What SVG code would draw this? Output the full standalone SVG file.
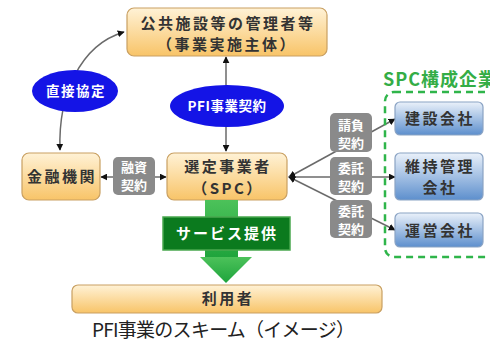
<svg xmlns="http://www.w3.org/2000/svg" width="490" height="345" viewBox="0 0 490 345">
<defs>
<linearGradient id="og" x1="0" y1="0" x2="0" y2="1"><stop offset="0" stop-color="#fff2d6"/><stop offset="1" stop-color="#f8c468"/></linearGradient>
<linearGradient id="bg" x1="0" y1="0" x2="0" y2="1"><stop offset="0" stop-color="#eaf1fa"/><stop offset="1" stop-color="#5d8fcd"/></linearGradient>
<linearGradient id="gg" x1="0" y1="0" x2="0" y2="1"><stop offset="0" stop-color="#4cc25a"/><stop offset="1" stop-color="#1ea43c"/></linearGradient>
<marker id="ah" viewBox="0 0 10 10" refX="9" refY="5" markerWidth="7" markerHeight="7" markerUnits="userSpaceOnUse" orient="auto-start-reverse"><path d="M0,0 L10,5 L0,10 z" fill="#111"/></marker>
<style>
.ob{fill:url(#og);stroke:#c9a062;stroke-width:1.2}
.bb{fill:url(#bg);stroke:#8aa3c4;stroke-width:1.2}
.gr{fill:#8a8a8a}
.t{font-family:"Noto Sans CJK JP","Noto Sans",sans-serif;font-weight:bold;text-anchor:middle}
.dk{fill:#333;font-size:15px;letter-spacing:2.5px}
.wt{fill:#fff;font-size:13px}
.el{fill:#fff;font-size:13.5px}
.ln{fill:none;stroke:#6a6a6a;stroke-width:1.5}
</style>
</defs>
<rect width="490" height="345" fill="#fff"/>

<g id="connectors">
<path class="ln" d="M60,150 C58,95 80,45 124,32" marker-start="url(#ah)" marker-end="url(#ah)"/>
<line class="ln" x1="226" y1="151" x2="226" y2="57" marker-start="url(#ah)" marker-end="url(#ah)"/>
<line class="ln" x1="101" y1="177" x2="166" y2="177" marker-start="url(#ah)" marker-end="url(#ah)"/>
<line class="ln" x1="289" y1="177" x2="395" y2="119" marker-start="url(#ah)" marker-end="url(#ah)"/>
<line class="ln" x1="289" y1="177" x2="395" y2="177" marker-start="url(#ah)" marker-end="url(#ah)"/>
<line class="ln" x1="289" y1="177" x2="395" y2="230" marker-start="url(#ah)" marker-end="url(#ah)"/>
</g>

<g id="public">
<rect class="ob" x="127" y="8" width="200" height="48" rx="7"/>
<text class="t dk" x="228" y="29">公共施設等の管理者等</text>
<text class="t dk" x="227" y="50">（事業実施主体）</text>
</g>

<g id="direct">
<ellipse cx="75" cy="91" rx="43" ry="21" fill="#1414e6"/>
<text class="t el" x="76" y="96" letter-spacing="1.5">直接協定</text>
</g>

<g id="pfi">
<ellipse cx="227" cy="106" rx="57" ry="21" fill="#1414e6"/>
<text class="t el" x="227" y="111" letter-spacing="0.5">PFI事業契約</text>
</g>

<g id="bank">
<rect class="ob" x="22" y="153" width="78" height="47" rx="7"/>
<text class="t dk" x="62" y="182" letter-spacing="1.5">金融機関</text>
</g>

<g id="loan">
<rect class="gr" x="113" y="157" width="42" height="38" rx="5"/>
<text class="t wt" x="134" y="172">融資</text>
<text class="t wt" x="134" y="190">契約</text>
</g>

<g id="spc">
<rect class="ob" x="167" y="153" width="120" height="47" rx="7"/>
<text class="t dk" x="228" y="172">選定事業者</text>
<text class="t dk" x="228" y="194">（SPC）</text>
</g>

<g id="service">
<rect x="205" y="200" width="33" height="58" fill="url(#gg)"/>
<polygon points="200,257 252,257 226,283" fill="url(#gg)"/>
<rect x="163" y="217" width="127" height="33" fill="#0b7a1e" stroke="#4aa84f" stroke-width="1.5"/>
<text class="t" x="227" y="239" fill="#fff" font-size="15" letter-spacing="2">サービス提供</text>
</g>

<g id="users">
<rect class="ob" x="72" y="285" width="310" height="28" rx="6"/>
<text class="t dk" x="228" y="304">利用者</text>
</g>

<g id="c1">
<rect class="gr" x="330" y="113" width="42" height="39" rx="5"/>
<text class="t wt" x="351" y="130">請負</text>
<text class="t wt" x="351" y="148">契約</text>
</g>
<g id="c2">
<rect class="gr" x="330" y="157" width="42" height="38" rx="5"/>
<text class="t wt" x="351" y="173">委託</text>
<text class="t wt" x="351" y="191">契約</text>
</g>
<g id="c3">
<rect class="gr" x="330" y="200" width="42" height="38" rx="5"/>
<text class="t wt" x="351" y="216">委託</text>
<text class="t wt" x="351" y="234">契約</text>
</g>

<g id="group">
<rect x="385" y="92" width="120" height="165" rx="9" fill="none" stroke="#2fb54a" stroke-width="2.5" stroke-dasharray="7 5"/>
<text x="383" y="86" font-family="'Noto Sans CJK JP','Noto Sans',sans-serif" font-weight="bold" font-size="18" letter-spacing="1" fill="#34ad46">SPC構成企業</text>
</g>

<g id="build">
<rect class="bb" x="395" y="102" width="88" height="33" rx="5"/>
<text class="t dk" x="440" y="124">建設会社</text>
</g>
<g id="maint">
<rect class="bb" x="395" y="153" width="88" height="47" rx="5"/>
<text class="t dk" x="440" y="172">維持管理</text>
<text class="t dk" x="440" y="193">会社</text>
</g>
<g id="ops">
<rect class="bb" x="395" y="213" width="88" height="34" rx="5"/>
<text class="t dk" x="440" y="236">運営会社</text>
</g>

<text x="92" y="337" font-family="'Noto Sans CJK JP','Noto Sans',sans-serif" font-size="19" fill="#222" textLength="263" lengthAdjust="spacing">PFI事業のスキーム（イメージ）</text>
</svg>
